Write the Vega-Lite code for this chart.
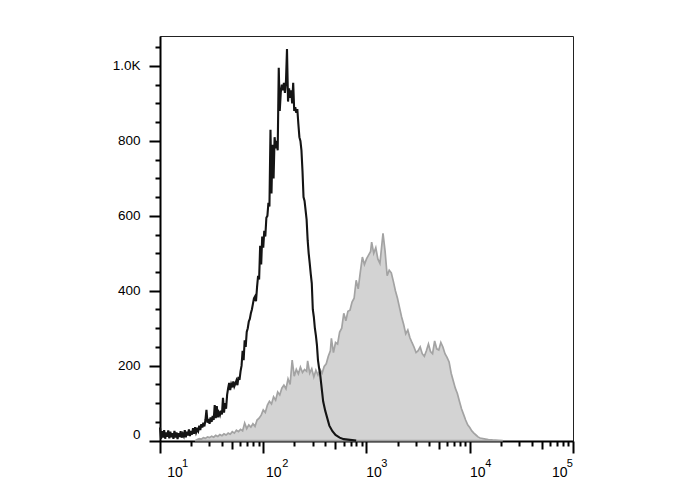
{
  "$schema": "https://vega.github.io/schema/vega-lite/v6.json",
  "width": 413,
  "height": 405,
  "autosize": {"type": "none"},
  "padding": {"left": 160, "top": 36, "right": 115, "bottom": 49},
  "background": "#ffffff",
  "view": {"stroke": "#222222", "strokeWidth": 1},
  "config": {"font": "Liberation Sans"},
  "datasets": {
    "isotype": [
      {"intensity":10.00,"count":35},{"intensity":10.23,"count":5},{"intensity":10.47,"count":25},{"intensity":10.72,"count":8},{"intensity":10.97,"count":28},
      {"intensity":11.22,"count":5},{"intensity":11.48,"count":22},{"intensity":11.75,"count":10},{"intensity":12.02,"count":27},{"intensity":12.30,"count":6},
      {"intensity":12.59,"count":24},{"intensity":12.88,"count":9},{"intensity":13.18,"count":20},{"intensity":13.49,"count":5},{"intensity":13.80,"count":26},
      {"intensity":14.13,"count":8},{"intensity":14.45,"count":22},{"intensity":14.79,"count":4},{"intensity":15.14,"count":20},{"intensity":15.49,"count":10},
      {"intensity":15.85,"count":25},{"intensity":16.22,"count":8},{"intensity":16.60,"count":18},{"intensity":16.98,"count":12},{"intensity":17.38,"count":28},
      {"intensity":17.78,"count":9},{"intensity":18.20,"count":24},{"intensity":18.62,"count":14},{"intensity":19.06,"count":30},{"intensity":19.50,"count":12},
      {"intensity":19.95,"count":26},{"intensity":20.42,"count":16},{"intensity":20.89,"count":33},{"intensity":21.38,"count":18},{"intensity":21.88,"count":36},
      {"intensity":22.39,"count":22},{"intensity":22.91,"count":30},{"intensity":23.44,"count":25},{"intensity":23.99,"count":40},{"intensity":24.55,"count":28},
      {"intensity":25.12,"count":44},{"intensity":25.70,"count":35},{"intensity":26.30,"count":48},{"intensity":26.92,"count":38},{"intensity":27.54,"count":55},
      {"intensity":28.18,"count":82},{"intensity":28.84,"count":48},{"intensity":29.51,"count":58},{"intensity":30.20,"count":45},{"intensity":30.90,"count":62},
      {"intensity":31.62,"count":50},{"intensity":32.36,"count":66},{"intensity":33.11,"count":55},{"intensity":33.88,"count":95},{"intensity":34.67,"count":60},
      {"intensity":35.48,"count":92},{"intensity":36.31,"count":62},{"intensity":37.15,"count":75},{"intensity":38.02,"count":68},{"intensity":38.91,"count":80},
      {"intensity":39.81,"count":70},{"intensity":40.74,"count":114},{"intensity":41.69,"count":75},{"intensity":42.66,"count":100},{"intensity":43.65,"count":85},
      {"intensity":44.67,"count":122},{"intensity":45.71,"count":140},{"intensity":46.77,"count":154},{"intensity":47.86,"count":135},{"intensity":48.98,"count":150},
      {"intensity":50.12,"count":142},{"intensity":51.29,"count":158},{"intensity":52.48,"count":145},{"intensity":53.70,"count":152},{"intensity":54.95,"count":160},
      {"intensity":56.23,"count":148},{"intensity":57.54,"count":170},{"intensity":58.88,"count":162},{"intensity":60.26,"count":185},{"intensity":61.66,"count":200},
      {"intensity":63.10,"count":240},{"intensity":64.57,"count":215},{"intensity":66.07,"count":268},{"intensity":67.61,"count":250},{"intensity":69.18,"count":290},
      {"intensity":70.80,"count":300},{"intensity":72.44,"count":318},{"intensity":74.13,"count":325},{"intensity":75.86,"count":340},{"intensity":77.62,"count":350},
      {"intensity":79.43,"count":365},{"intensity":81.28,"count":380},{"intensity":83.18,"count":385},{"intensity":85.11,"count":372},{"intensity":87.10,"count":410},
      {"intensity":89.13,"count":440},{"intensity":91.20,"count":430},{"intensity":93.33,"count":520},{"intensity":95.50,"count":470},{"intensity":97.72,"count":545},
      {"intensity":100.0,"count":515},{"intensity":102.3,"count":560},{"intensity":104.7,"count":545},{"intensity":107.2,"count":595},{"intensity":109.7,"count":600},
      {"intensity":112.2,"count":635},{"intensity":114.8,"count":625},{"intensity":117.5,"count":830},{"intensity":120.2,"count":660},{"intensity":123.0,"count":790},
      {"intensity":125.9,"count":700},{"intensity":128.8,"count":810},{"intensity":131.8,"count":780},{"intensity":134.9,"count":800},{"intensity":138.0,"count":775},
      {"intensity":141.3,"count":995},{"intensity":144.5,"count":880},{"intensity":147.9,"count":930},{"intensity":151.4,"count":950},{"intensity":154.9,"count":935},
      {"intensity":158.5,"count":955},{"intensity":162.2,"count":928},{"intensity":166.0,"count":960},{"intensity":169.8,"count":1045},{"intensity":173.8,"count":905},
      {"intensity":177.8,"count":940},{"intensity":182.0,"count":915},{"intensity":186.2,"count":935},{"intensity":190.6,"count":900},{"intensity":195.0,"count":955},
      {"intensity":199.5,"count":880},{"intensity":204.2,"count":890},{"intensity":208.9,"count":875},{"intensity":213.8,"count":885},{"intensity":218.8,"count":845},
      {"intensity":223.9,"count":810},{"intensity":229.1,"count":800},{"intensity":234.4,"count":775},{"intensity":239.9,"count":720},{"intensity":245.5,"count":650},
      {"intensity":251.2,"count":640},{"intensity":257.0,"count":615},{"intensity":263.0,"count":590},{"intensity":269.2,"count":535},{"intensity":275.4,"count":500},
      {"intensity":281.8,"count":474},{"intensity":288.4,"count":445},{"intensity":295.1,"count":420},{"intensity":302.0,"count":350},{"intensity":309.0,"count":330},
      {"intensity":316.2,"count":300},{"intensity":323.6,"count":280},{"intensity":331.1,"count":255},{"intensity":338.8,"count":215},{"intensity":346.7,"count":195},
      {"intensity":354.8,"count":180},{"intensity":363.1,"count":155},{"intensity":371.5,"count":130},{"intensity":380.2,"count":105},{"intensity":398.1,"count":80},
      {"intensity":416.9,"count":60},{"intensity":436.5,"count":40},{"intensity":467.7,"count":25},{"intensity":501.2,"count":15},{"intensity":549.5,"count":8},
      {"intensity":602.6,"count":4},{"intensity":691.8,"count":2},{"intensity":794.3,"count":0}
    ],
    "stained": [
      {"intensity":21.88,"count":0},{"intensity":22.91,"count":3},{"intensity":23.99,"count":5},{"intensity":25.12,"count":4},{"intensity":26.30,"count":8},
      {"intensity":27.54,"count":6},{"intensity":28.84,"count":10},{"intensity":30.20,"count":8},{"intensity":31.62,"count":12},{"intensity":33.11,"count":9},
      {"intensity":34.67,"count":14},{"intensity":36.31,"count":11},{"intensity":38.02,"count":16},{"intensity":39.81,"count":13},{"intensity":41.69,"count":18},
      {"intensity":43.65,"count":15},{"intensity":45.71,"count":20},{"intensity":47.86,"count":17},{"intensity":50.12,"count":24},{"intensity":52.48,"count":20},
      {"intensity":54.95,"count":28},{"intensity":57.54,"count":24},{"intensity":60.26,"count":30},{"intensity":63.10,"count":26},{"intensity":66.07,"count":47},
      {"intensity":69.18,"count":32},{"intensity":72.44,"count":42},{"intensity":75.86,"count":36},{"intensity":79.43,"count":45},{"intensity":83.18,"count":38},
      {"intensity":87.10,"count":55},{"intensity":91.20,"count":60},{"intensity":95.50,"count":68},{"intensity":100.0,"count":82},{"intensity":104.7,"count":75},
      {"intensity":109.7,"count":95},{"intensity":114.8,"count":105},{"intensity":120.2,"count":98},{"intensity":125.9,"count":117},{"intensity":131.8,"count":108},
      {"intensity":138.0,"count":130},{"intensity":144.5,"count":122},{"intensity":151.4,"count":140},{"intensity":158.5,"count":148},{"intensity":166.0,"count":138},
      {"intensity":173.8,"count":165},{"intensity":182.0,"count":150},{"intensity":190.6,"count":215},{"intensity":199.5,"count":172},{"intensity":208.9,"count":190},
      {"intensity":218.8,"count":178},{"intensity":229.1,"count":196},{"intensity":239.9,"count":182},{"intensity":251.2,"count":190},{"intensity":263.0,"count":185},
      {"intensity":269.2,"count":213},{"intensity":281.8,"count":180},{"intensity":295.1,"count":192},{"intensity":309.0,"count":170},{"intensity":323.6,"count":188},
      {"intensity":338.8,"count":175},{"intensity":354.8,"count":190},{"intensity":371.5,"count":180},{"intensity":389.0,"count":198},{"intensity":407.4,"count":205},
      {"intensity":426.6,"count":225},{"intensity":446.7,"count":240},{"intensity":457.1,"count":273},{"intensity":478.6,"count":235},{"intensity":501.2,"count":262},
      {"intensity":524.8,"count":258},{"intensity":549.5,"count":290},{"intensity":575.4,"count":300},{"intensity":602.6,"count":340},{"intensity":631.0,"count":320},
      {"intensity":660.7,"count":345},{"intensity":691.8,"count":348},{"intensity":724.4,"count":370},{"intensity":758.6,"count":380},{"intensity":794.3,"count":428},
      {"intensity":831.8,"count":405},{"intensity":871.0,"count":450},{"intensity":912.0,"count":490},{"intensity":955.0,"count":470},{"intensity":1000,"count":485},
      {"intensity":1047,"count":495},{"intensity":1096,"count":505},{"intensity":1122,"count":530},{"intensity":1175,"count":500},{"intensity":1230,"count":515},
      {"intensity":1288,"count":485},{"intensity":1349,"count":473},{"intensity":1445,"count":553},{"intensity":1514,"count":505},{"intensity":1585,"count":440},
      {"intensity":1660,"count":455},{"intensity":1738,"count":448},{"intensity":1820,"count":425},{"intensity":1905,"count":400},{"intensity":1995,"count":380},
      {"intensity":2089,"count":355},{"intensity":2188,"count":330},{"intensity":2291,"count":310},{"intensity":2399,"count":285},{"intensity":2512,"count":295},
      {"intensity":2630,"count":275},{"intensity":2754,"count":262},{"intensity":2884,"count":250},{"intensity":3020,"count":235},{"intensity":3162,"count":240},
      {"intensity":3311,"count":250},{"intensity":3467,"count":232},{"intensity":3631,"count":225},{"intensity":3802,"count":240},{"intensity":3981,"count":258},
      {"intensity":4169,"count":238},{"intensity":4365,"count":232},{"intensity":4571,"count":266},{"intensity":4786,"count":245},{"intensity":5012,"count":242},
      {"intensity":5248,"count":262},{"intensity":5495,"count":250},{"intensity":5754,"count":232},{"intensity":6026,"count":222},{"intensity":6310,"count":210},
      {"intensity":6607,"count":180},{"intensity":6918,"count":160},{"intensity":7244,"count":140},{"intensity":7586,"count":126},{"intensity":7943,"count":105},
      {"intensity":8318,"count":85},{"intensity":8710,"count":70},{"intensity":9120,"count":55},{"intensity":9550,"count":42},{"intensity":10000,"count":35},
      {"intensity":10470,"count":26},{"intensity":10960,"count":20},{"intensity":11480,"count":15},{"intensity":12020,"count":10},{"intensity":12590,"count":7},
      {"intensity":13800,"count":5},{"intensity":15140,"count":3},{"intensity":16600,"count":2},{"intensity":19060,"count":1},{"intensity":20890,"count":0}
    ]
  },
  "resolve": {"axis": {"x": "independent", "y": "independent"}},
  "layer": [
    {
      "data": {"name": "stained"},
      "mark": {"type": "area", "fill": "#d3d3d3", "stroke": "#a3a3a3", "strokeWidth": 1.7, "interpolate": "linear"},
      "encoding": {
        "x": {"field": "intensity", "type": "quantitative",
          "scale": {"type": "log", "domain": [10, 100000], "nice": false},
          "axis": {"orient": "bottom", "values": [10, 100, 1000, 10000, 100000], "title": null, "grid": false,
            "domain": true, "domainColor": "#000000", "domainWidth": 2,
            "ticks": true, "tickSize": 12, "tickWidth": 2, "tickColor": "#000000",
            "labelExpr": "'10'", "labelFont": "Liberation Sans", "labelFontSize": 14, "labelColor": "#000000",
            "labelPadding": 12.6, "labelFlush": false, "labelOverlap": false,
            "labelOffset": {"condition": [
              {"test": "datum.value == 10", "value": 14.5},
              {"test": "datum.value == 100", "value": 10},
              {"test": "datum.value == 1000", "value": 7},
              {"test": "datum.value == 10000", "value": 7.5}
            ], "value": -13.7}
          }
        },
        "y": {"field": "count", "type": "quantitative",
          "scale": {"domain": [-1, 1080], "nice": false, "zero": false},
          "axis": {"orient": "left", "values": [0, 200, 400, 600, 800, 1000], "title": null, "grid": false,
            "domain": true, "domainColor": "#000000", "domainWidth": 2,
            "ticks": true, "tickSize": 11, "tickWidth": 2, "tickColor": "#000000",
            "labelExpr": "datum.value == 1000 ? '1.0K' : datum.label",
            "labelFont": "Liberation Sans", "labelFontSize": 13.5, "labelColor": "#000000",
            "labelPadding": 9, "labelFlush": false, "labelOverlap": false,
            "labelOffset": {"condition": {"test": "datum.value == 0", "value": -6}, "value": 0}
          }
        }
      }
    },
    {
      "data": {"name": "isotype"},
      "mark": {"type": "line", "stroke": "#141414", "strokeWidth": 2.1, "interpolate": "linear", "strokeJoin": "miter"},
      "encoding": {
        "x": {"field": "intensity", "type": "quantitative",
          "scale": {"type": "log", "domain": [10, 100000], "nice": false},
          "axis": {"orient": "bottom", "values": [10, 100, 1000, 10000, 100000], "title": null, "grid": false,
            "domain": false, "ticks": false, "tickSize": 0,
            "labelExpr": "datum.value == 10 ? '1' : datum.value == 100 ? '2' : datum.value == 1000 ? '3' : datum.value == 10000 ? '4' : '5'",
            "labelFont": "Liberation Sans", "labelFontSize": 11, "labelColor": "#000000",
            "labelPadding": 16.8, "labelFlush": false, "labelOverlap": false,
            "labelOffset": {"condition": [
              {"test": "datum.value == 10", "value": 24.5},
              {"test": "datum.value == 100", "value": 21.5},
              {"test": "datum.value == 1000", "value": 17.3},
              {"test": "datum.value == 10000", "value": 18}
            ], "value": -3.7}
          }
        },
        "y": {"field": "count", "type": "quantitative",
          "scale": {"domain": [-1, 1080], "nice": false, "zero": false},
          "axis": {"orient": "left", "values": [50, 100, 150, 250, 300, 350, 450, 500, 550, 650, 700, 750, 850, 900, 950, 1050], "title": null, "grid": false,
            "domain": false, "ticks": true, "tickSize": 5, "tickWidth": 2, "tickColor": "#000000", "labels": false}
        }
      }
    },
    {
      "data": {"name": "stained"},
      "mark": {"type": "point", "opacity": 0},
      "encoding": {
        "x": {"field": "intensity", "type": "quantitative",
          "scale": {"type": "log", "domain": [10, 100000], "nice": false},
          "axis": {"orient": "bottom", "values": [20, 30, 40, 60, 70, 80, 90, 200, 300, 400, 600, 700, 800, 900, 2000, 3000, 4000, 6000, 7000, 8000, 9000, 20000, 30000, 40000, 60000, 70000, 80000, 90000],
            "title": null, "grid": false, "domain": false, "ticks": true, "tickSize": 5, "tickWidth": 2, "tickColor": "#000000", "labels": false}
        },
        "y": {"field": "count", "type": "quantitative", "scale": {"domain": [-1, 1080], "nice": false, "zero": false}, "axis": null}
      }
    },
    {
      "data": {"name": "stained"},
      "mark": {"type": "point", "opacity": 0},
      "encoding": {
        "x": {"field": "intensity", "type": "quantitative",
          "scale": {"type": "log", "domain": [10, 100000], "nice": false},
          "axis": {"orient": "bottom", "values": [50, 500, 5000, 50000],
            "title": null, "grid": false, "domain": false, "ticks": true, "tickSize": 8, "tickWidth": 2, "tickColor": "#000000", "labels": false}
        },
        "y": {"field": "count", "type": "quantitative", "scale": {"domain": [-1, 1080], "nice": false, "zero": false}, "axis": null}
      }
    }
  ]
}
